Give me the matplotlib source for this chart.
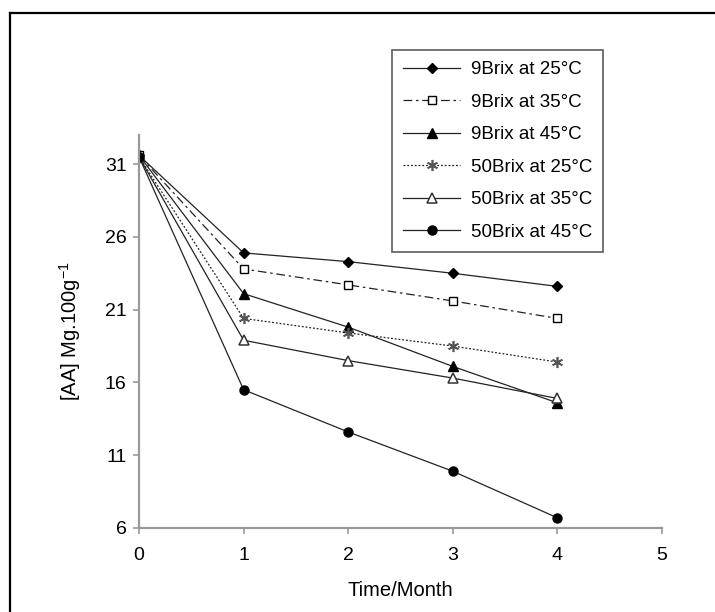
import numpy as np
import matplotlib
matplotlib.use("Agg")
import matplotlib.pyplot as plt
from matplotlib.lines import Line2D

plt.rcParams['font.family'] = ['Liberation Sans', 'DejaVu Sans']
plt.rcParams['mathtext.default'] = 'regular'

# Datos
meses = [0, 1, 2, 3, 4]
brix9_25 = [31.6, 24.9, 24.3, 23.5, 22.6]
brix9_35 = [31.6, 23.8, 22.7, 21.6, 20.4]
brix9_45 = [31.6, 22.1, 19.8, 17.1, 14.6]
brix50_25 = [31.5, 20.4, 19.4, 18.5, 17.4]
brix50_35 = [31.5, 18.9, 17.5, 16.3, 14.9]
brix50_45 = [31.5, 15.5, 12.6, 9.9, 6.7]

etiquetas = ["9Brix at 25°C", "9Brix at 35°C", "9Brix at 45°C",
             "50Brix at 25°C", "50Brix at 35°C", "50Brix at 45°C"]

fig = plt.figure(figsize=(7.15, 6.12), dpi=100)
ax = fig.add_axes([139/715, 1-528/612, (662-139)/715, (528-135)/612])

col = '#222222'
lw = 0.9
ms = 6
ax.plot(meses, brix9_25, color=col, lw=lw, ls='-', marker='D', ms=5.5, mfc='black', mec='black', label=etiquetas[0])
ax.plot(meses, brix9_35, color=col, lw=lw, ls=(0, (7, 3, 2, 3)), marker='s', ms=ms, mfc='white', mec='black', label=etiquetas[1])
ax.plot(meses, brix9_45, color=col, lw=lw, ls='-', marker='^', ms=ms+1, mfc='black', mec='black', label=etiquetas[2])
ax.plot(meses, brix50_25, color=col, lw=lw, ls=(0, (1.5, 1.5)), marker=(6, 2, 0), ms=ms+2, mfc='#555555', mec='#555555', mew=1.2, label=etiquetas[3])
ax.plot(meses, brix50_35, color=col, lw=lw, ls='-', marker='^', ms=ms+1, mfc='white', mec='#333333', mew=1.1, label=etiquetas[4])
ax.plot(meses, brix50_45, color=col, lw=lw, ls='-', marker='o', ms=ms+0.5, mfc='black', mec='black', label=etiquetas[5])

ax.set_xlim(0, 5)
ax.set_ylim(6, 33)
ax.set_xticks([0, 1, 2, 3, 4, 5])
ax.set_yticks([6, 11, 16, 21, 26, 31])
for s in ['top', 'right']:
    ax.spines[s].set_visible(False)
for s in ['left', 'bottom']:
    ax.spines[s].set_color('#999999')
    ax.spines[s].set_linewidth(1.6)
ax.tick_params(axis='both', direction='out', length=4, width=1.2, color='#999999',
               labelsize=14, labelcolor='black')
ax.tick_params(axis='x', pad=10)
ax.tick_params(axis='y', pad=5)

ax.set_xlabel("Time/Month", fontsize=14.5)
ax.set_ylabel("[AA] Mg.100g$^{-1}$", fontsize=14.5)
ax.xaxis.set_label_coords(0.5, -0.135)
ax.yaxis.set_label_coords(-0.108, 0.5)

leg = ax.legend(loc='upper left', bbox_to_anchor=(392/715, 1-50/612),
                bbox_transform=fig.transFigure, fontsize=13.5, frameon=True,
                fancybox=False, handlelength=3.05, handletextpad=0.55,
                labelspacing=0.82, borderpad=0.6, borderaxespad=0)
leg.get_frame().set_edgecolor('#333333')
leg.get_frame().set_linewidth(1.2)

# Marco exterior de la figura
fig.add_artist(Line2D([10/715, 1.0], [1-13/612, 1-13/612], transform=fig.transFigure, color='black', lw=1.6))
fig.add_artist(Line2D([10/715, 10/715], [1-13/612, 0.0], transform=fig.transFigure, color='black', lw=1.6))

fig.savefig("out.png", dpi=100)
